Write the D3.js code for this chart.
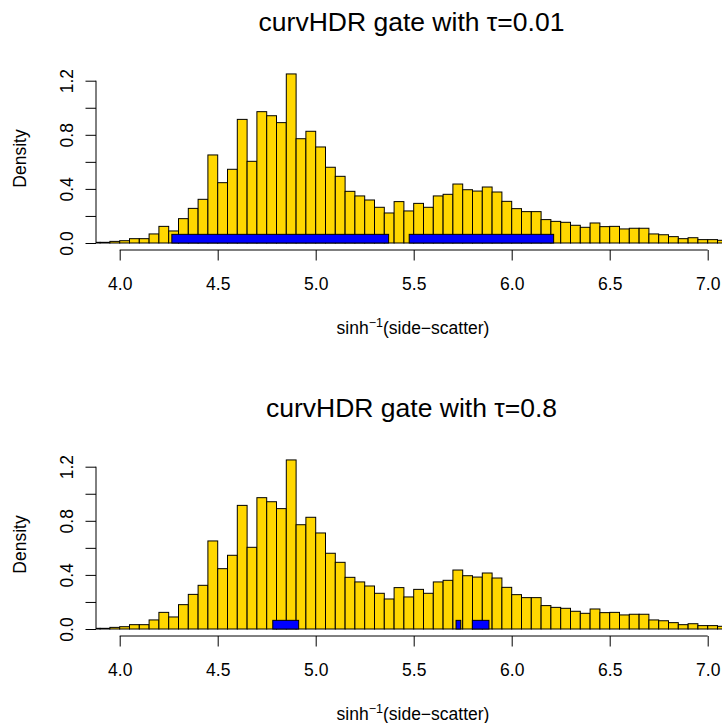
<!DOCTYPE html>
<html>
<head>
<meta charset="utf-8">
<script src="https://cdn.jsdelivr.net/npm/d3@7"></script>
<style>
  html, body { margin: 0; padding: 0; background: #ffffff; }
  svg { display: block; font-family: "Liberation Sans", Arial, sans-serif; }
</style>
</head>
<body>
<svg id="chart" width="722" height="723"></svg>
<script>
// ---- Data ----
const binWidth = 0.05;
const binStarts = [3.85, 3.90, 3.95, 4.00, 4.05, 4.10, 4.15, 4.20, 4.25, 4.30, 4.35, 4.40,
  4.45, 4.50, 4.55, 4.60, 4.65, 4.70, 4.75, 4.80, 4.85, 4.90, 4.95, 5.00, 5.05, 5.10,
  5.15, 5.20, 5.25, 5.30, 5.35, 5.40, 5.45, 5.50, 5.55, 5.60, 5.65, 5.70, 5.75, 5.80,
  5.85, 5.90, 5.95, 6.00, 6.05, 6.10, 6.15, 6.20, 6.25, 6.30, 6.35, 6.40, 6.45, 6.50,
  6.55, 6.60, 6.65, 6.70, 6.75, 6.80, 6.85, 6.90, 6.95, 7.00, 7.05];
const densities = [0.005, 0.005, 0.012, 0.017, 0.032, 0.032, 0.067, 0.123, 0.089, 0.180, 0.256, 0.323,
  0.651, 0.446, 0.545, 0.914, 0.604, 0.971, 0.941, 0.890, 1.250, 0.771, 0.826, 0.710, 0.560, 0.493,
  0.382, 0.348, 0.318, 0.264, 0.222, 0.306, 0.237, 0.293, 0.264, 0.348, 0.360, 0.436, 0.394, 0.384,
  0.414, 0.377, 0.308, 0.254, 0.232, 0.232, 0.173, 0.160, 0.153, 0.131, 0.116, 0.148, 0.121, 0.123,
  0.104, 0.109, 0.109, 0.067, 0.061, 0.047, 0.032, 0.039, 0.025, 0.025, 0.020];

const gateHeight = 0.064;
const gates1 = [[4.266, 5.372], [5.477, 6.214]];
const gates2 = [[4.781, 4.913], [5.716, 5.740], [5.799, 5.884]];

const titles = ["curvHDR gate with \u03C4=0.01", "curvHDR gate with \u03C4=0.8"];
const xTicks = [4.0, 4.5, 5.0, 5.5, 6.0, 6.5, 7.0];
const xTickLabels = ["4.0", "4.5", "5.0", "5.5", "6.0", "6.5", "7.0"];
const yTicks = [0, 0.2, 0.4, 0.6, 0.8, 1.0, 1.2];
const yTickLabels = ["0.0", "", "0.4", "", "0.8", "", "1.2"];
const yLabel = "Density";

// ---- Layout ----
const svg = d3.select("#chart");
const x = d3.scaleLinear().domain([4, 7]).range([119.7, 707.7]);
const panelOffset = 386;
const plotLeft = 96;

const bins = binStarts.map((s, i) => ({ x0: s, x1: s + binWidth, d: densities[i] }));

function drawPanel(idx, gates) {
  const off = idx * panelOffset;
  const y = d3.scaleLinear().domain([0, 1.2]).range([243 + off, 80.7 + off]);
  const g = svg.append("g");

  const clipId = "clip" + idx;
  svg.append("clipPath").attr("id", clipId)
    .append("rect").attr("x", plotLeft).attr("y", 60 + off)
    .attr("width", 722 - plotLeft).attr("height", 191);

  const plot = g.append("g").attr("clip-path", `url(#${clipId})`);

  plot.selectAll("rect.bar").data(bins).enter().append("rect")
    .attr("class", "bar")
    .attr("x", d => x(d.x0))
    .attr("width", d => x(d.x1) - x(d.x0))
    .attr("y", d => y(d.d))
    .attr("height", d => y(0) - y(d.d))
    .attr("fill", "#FFD700")
    .attr("stroke", "#000")
    .attr("stroke-width", 1);

  plot.selectAll("rect.gate").data(gates).enter().append("rect")
    .attr("class", "gate")
    .attr("x", d => x(d[0]))
    .attr("width", d => x(d[1]) - x(d[0]))
    .attr("y", y(gateHeight))
    .attr("height", y(0) - y(gateHeight))
    .attr("fill", "#0000FF")
    .attr("stroke", "#000")
    .attr("stroke-width", 1);

  // x axis
  const xAxis = d3.axisBottom(x).tickValues(xTicks)
    .tickFormat((d, i) => xTickLabels[i]).tickSize(10.5).tickPadding(6);
  const xg = g.append("g").attr("transform", `translate(0,${250 + off})`).call(xAxis);
  xg.select(".domain").attr("d", `M${x(4)},0H${x(7)}`).attr("stroke", "#000");
  xg.selectAll(".tick line").attr("stroke", "#000");
  xg.selectAll(".tick text").attr("font-size", "17.5px").attr("fill", "#000")
    .attr("font-family", "'Liberation Sans', Arial, sans-serif")
    .attr("dy", null).attr("y", 40);

  // y axis
  const yAxis = d3.axisLeft(y).tickValues(yTicks)
    .tickFormat((d, i) => yTickLabels[i]).tickSize(10.5);
  const yg = g.append("g").attr("transform", `translate(${plotLeft},0)`).call(yAxis);
  yg.select(".domain").attr("d", `M0,${y(0)}V${y(1.2)}`).attr("stroke", "#000");
  yg.selectAll(".tick line").attr("stroke", "#000");
  yg.selectAll(".tick text")
    .attr("font-size", "17.5px").attr("fill", "#000")
    .attr("font-family", "'Liberation Sans', Arial, sans-serif")
    .attr("x", null).attr("dy", null)
    .attr("text-anchor", "middle")
    .attr("transform", "translate(-23.5,0) rotate(-90)");

  // y label
  g.append("text")
    .attr("transform", `translate(26,${158.5 + off}) rotate(-90)`)
    .attr("text-anchor", "middle")
    .attr("font-size", "17.5px").attr("fill", "#000")
    .text(yLabel);

  // x label
  const xl = g.append("text")
    .attr("x", 413).attr("y", 334 + off)
    .attr("text-anchor", "middle")
    .attr("font-size", "17.5px").attr("fill", "#000");
  xl.append("tspan").text("sinh");
  xl.append("tspan").attr("font-size", "12.5px").attr("dy", -7).text("\u22121");
  xl.append("tspan").attr("dy", 7).text("(side\u2212scatter)");

  // title
  g.append("text")
    .attr("x", 411.5).attr("y", 30.7 + off)
    .attr("text-anchor", "middle")
    .attr("font-size", "26.5px").attr("fill", "#000")
    .text(titles[idx]);
}

drawPanel(0, gates1);
drawPanel(1, gates2);
</script>
</body>
</html>
